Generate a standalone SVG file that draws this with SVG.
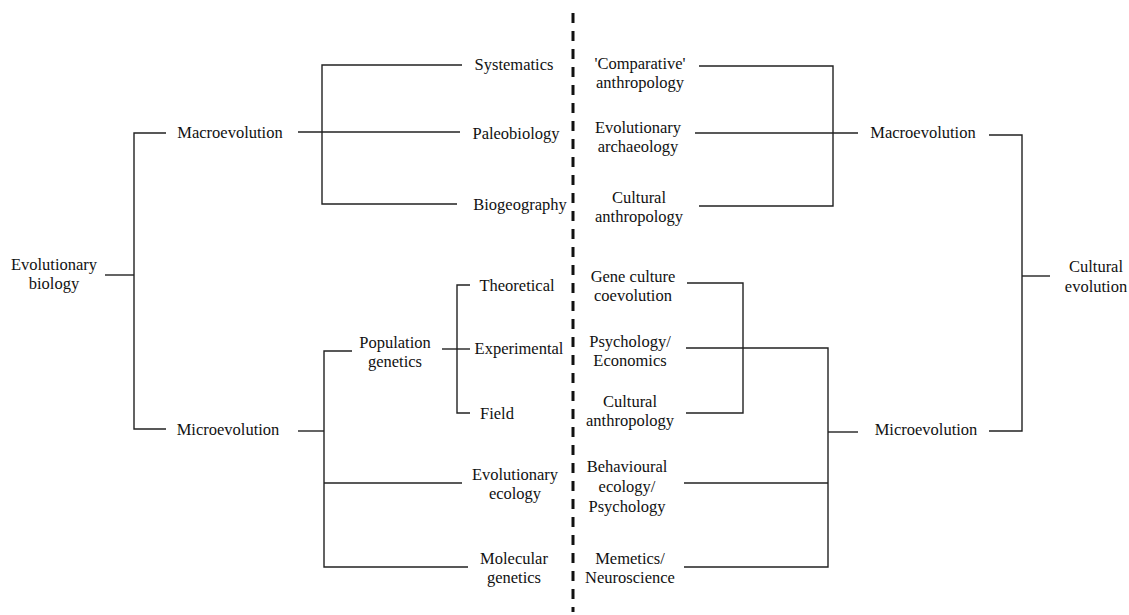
<svg xmlns="http://www.w3.org/2000/svg" width="1129" height="615" viewBox="0 0 1129 615">
<style>
text{font-family:"Liberation Serif","Times New Roman",serif;font-size:16.5px;fill:#111;text-anchor:middle}
.c path{fill:none;stroke:#222;stroke-width:1.4}
.d{fill:none;stroke:#111;stroke-width:3;stroke-dasharray:10 8}
</style>
<rect width="1129" height="615" fill="#fff"/>
<g class="c" id="connectors">
<path d="M105,275 H134"/>
<path d="M166,133 H134 V429 H166"/>
<path d="M298,132 H460"/>
<path d="M462,65 H322 V204 H457"/>
<path d="M298,431 H324"/>
<path d="M352,351 H324 V567 H468"/>
<path d="M324,483 H462"/>
<path d="M442,349 H470"/>
<path d="M470,285 H457 V413 H470"/>
<path d="M699,66 H833 V206 H699"/>
<path d="M695,133 H858"/>
<path d="M989,135 H1022 V431 H989"/>
<path d="M1022,276 H1050"/>
<path d="M687,283 H743 V413 H686"/>
<path d="M686,348 H828 V567 H684"/>
<path d="M684,483 H828"/>
<path d="M828,432 H858"/>
</g>
<path class="d" id="divider" d="M573,13 V612"/>
<g id="evolutionary-biology"><text x="54" y="270">Evolutionary</text><text x="54" y="289">biology</text></g>
<g id="macroevolution-left"><text x="230" y="138">Macroevolution</text></g>
<g id="microevolution-left"><text x="228" y="435">Microevolution</text></g>
<g id="systematics"><text x="514" y="70">Systematics</text></g>
<g id="paleobiology"><text x="516" y="139">Paleobiology</text></g>
<g id="biogeography"><text x="520" y="210">Biogeography</text></g>
<g id="population-genetics"><text x="395" y="348">Population</text><text x="395" y="367">genetics</text></g>
<g id="theoretical"><text x="517" y="291">Theoretical</text></g>
<g id="experimental"><text x="519" y="354">Experimental</text></g>
<g id="field"><text x="497" y="419">Field</text></g>
<g id="evolutionary-ecology"><text x="515" y="480">Evolutionary</text><text x="515" y="499">ecology</text></g>
<g id="molecular-genetics"><text x="514" y="564">Molecular</text><text x="514" y="583">genetics</text></g>
<g id="comparative-anthropology"><text x="640" y="69">'Comparative'</text><text x="640" y="88">anthropology</text></g>
<g id="evolutionary-archaeology"><text x="638" y="133">Evolutionary</text><text x="638" y="152">archaeology</text></g>
<g id="cultural-anthropology-1"><text x="639" y="203">Cultural</text><text x="639" y="222">anthropology</text></g>
<g id="gene-culture"><text x="633" y="282">Gene culture</text><text x="633" y="301">coevolution</text></g>
<g id="psychology-economics"><text x="630" y="347">Psychology/</text><text x="630" y="366">Economics</text></g>
<g id="cultural-anthropology-2"><text x="630" y="407">Cultural</text><text x="630" y="426">anthropology</text></g>
<g id="behavioural-ecology"><text x="627" y="472">Behavioural</text><text x="627" y="492">ecology/</text><text x="627" y="512">Psychology</text></g>
<g id="memetics"><text x="630" y="564">Memetics/</text><text x="630" y="583">Neuroscience</text></g>
<g id="macroevolution-right"><text x="923" y="138">Macroevolution</text></g>
<g id="microevolution-right"><text x="926" y="435">Microevolution</text></g>
<g id="cultural-evolution"><text x="1096" y="272">Cultural</text><text x="1096" y="292">evolution</text></g>
</svg>
